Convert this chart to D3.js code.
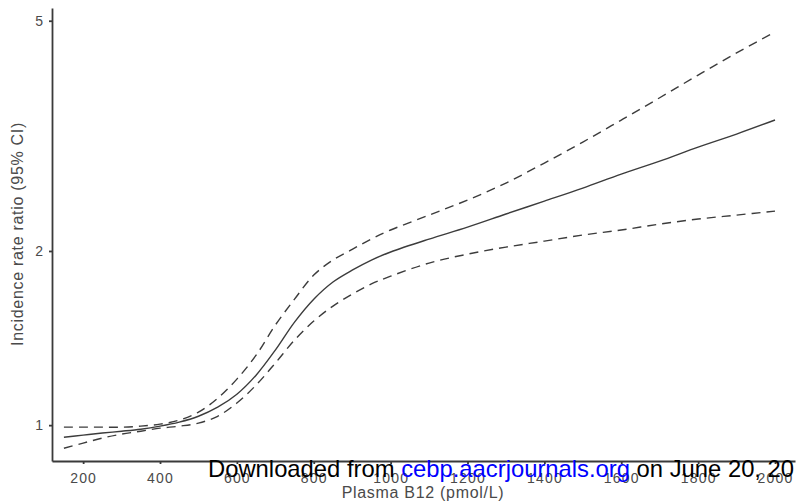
<!DOCTYPE html>
<html>
<head>
<meta charset="utf-8">
<script src="https://cdn.jsdelivr.net/npm/d3@7"></script>
<style>
body { margin:0; background:#fff; }
.axis text { font-family:"Liberation Sans", Arial, sans-serif; fill:#4a4a4a; }
</style>
</head>
<body>
<div class="chart1"></div>
<script>
// plasma B12 (pmol/L)
var b12 = [150,200,250,300,350,400,450,500,550,600,650,700,750,800,850,900,950,1000,
           1100,1200,1300,1400,1500,1600,1700,1800,1900,2000];
// incidence rate ratio, point estimate
var irr = [0.953,0.961,0.969,0.976,0.984,0.996,1.012,1.036,1.074,1.131,1.220,1.348,1.507,1.651,1.768,1.853,1.929,1.992,
           2.097,2.199,2.317,2.439,2.569,2.716,2.860,3.024,3.185,3.368];
// upper 95% CI
var upper = [0.992,0.992,0.992,0.992,0.996,1.004,1.020,1.053,1.113,1.201,1.321,1.489,1.651,1.817,1.929,2.013,2.098,2.174,
             2.307,2.449,2.621,2.838,3.085,3.368,3.680,4.028,4.399,4.780];
// lower 95% CI
var lower = [0.912,0.931,0.950,0.965,0.976,0.988,0.996,1.008,1.036,1.092,1.173,1.280,1.403,1.513,1.606,1.684,1.754,1.809,
             1.906,1.975,2.031,2.080,2.131,2.174,2.226,2.271,2.307,2.344];
var xTicks = [200,400,600,800,1000,1200,1400,1600,1800,2000];
var yTicks = [1,2,5];

var width = 800, height = 502;
var margin = {top: 8, right: 5, bottom: 41, left: 52};

// axis extents
var x = d3.scaleLinear().domain([119, 2052]).range([margin.left, width - margin.right]);
var y = d3.scaleLog().domain([0.867, 5.26]).range([height - margin.bottom, margin.top]);

var svg = d3.select(".chart1")
	.append("svg")
	.attr("width", width)
	.attr("height", height);

var xAxis = d3.axisBottom(x).tickValues(xTicks).tickFormat(d3.format("d")).tickSize(3).tickSizeOuter(0).tickPadding(9);
var yAxis = d3.axisLeft(y).tickValues(yTicks).tickFormat(d3.format("d")).tickSize(3).tickSizeOuter(0).tickPadding(6);

var gx = svg.append("g")
	.attr("class", "axis")
	.attr("transform", "translate(0," + (height - margin.bottom) + ")")
	.call(xAxis);
gx.selectAll("text").style("font-size", "14px").style("letter-spacing", "1.2px");

var gy = svg.append("g")
	.attr("class", "axis")
	.attr("transform", "translate(" + margin.left + ",0)")
	.call(yAxis);
gy.selectAll("text").style("font-size", "14px");

svg.selectAll(".axis path, .axis line")
	.attr("stroke", "#3a3a3a")
	.attr("stroke-width", 1.8);

// axis titles
svg.append("g").attr("class", "axis")
	.append("text")
	.attr("x", 423)
	.attr("y", 498)
	.style("text-anchor", "middle")
	.style("font-size", "16px")
	.style("letter-spacing", "0.7px")
	.text("Plasma B12 (pmol/L)");
svg.append("g").attr("class", "axis")
	.append("text")
	.attr("transform", "translate(23,234) rotate(-90)")
	.style("text-anchor", "middle")
	.style("font-size", "16px")
	.style("letter-spacing", "0.7px")
	.text("Incidence rate ratio (95% CI)");

// curves
var series = [
	{vals: upper, dash: "9,6"},
	{vals: lower, dash: "9,6"},
	{vals: irr, dash: null}
];
var line = d3.line()
	.x(function(d){ return x(d[0]); })
	.y(function(d){ return y(d[1]); })
	.curve(d3.curveCatmullRom.alpha(0.5));

svg.selectAll("path.curve")
	.data(series)
	.enter()
	.append("path")
	.attr("class", "curve")
	.attr("d", function(s){ return line(b12.map(function(b, i){ return [b, s.vals[i]]; })); })
	.attr("fill", "none")
	.attr("stroke", "#3c3c3c")
	.attr("stroke-width", 1.4)
	.attr("stroke-dasharray", function(s){ return s.dash; });

// download stamp laid over the figure
var stamp = svg.append("text")
	.attr("x", 208)
	.attr("y", 477)
	.style("font-family", "\"Liberation Sans\", Arial, sans-serif")
	.style("font-size", "23.8px")
	.style("fill", "#000");
stamp.append("tspan").text("Downloaded from ");
stamp.append("tspan").style("fill", "#0000ff").text("cebp.aacrjournals.org");
stamp.append("tspan").text(" on June 20, 20");
</script>
</body>
</html>
